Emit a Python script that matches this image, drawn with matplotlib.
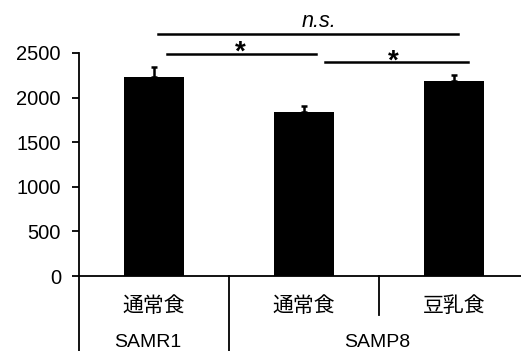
import matplotlib
matplotlib.use("Agg")
import matplotlib.pyplot as plt
import numpy as np

plt.rcParams['font.family'] = ['Liberation Sans', 'Noto Sans CJK JP', 'DejaVu Sans']

diets = ['通常食', '通常食', '豆乳食']
strains = ['SAMR1', 'SAMP8']
means = [2234, 1839, 2186]
errors = [112, 67, 71]
yticks = [0, 500, 1000, 1500, 2000, 2500]

fig = plt.figure(figsize=(5.21, 3.51), dpi=100)
ax = fig.add_axes([79 / 521, 75 / 351, 1 - 79 / 521, 223 / 351])

x = np.arange(len(means))
ax.bar(x, means, width=0.4, color='black')
ax.errorbar(x, means, yerr=[np.zeros(3), errors], fmt='none', ecolor='black',
            elinewidth=1.8, capsize=2.5, capthick=1.8)

ax.set_xlim(-0.5, 2.447)
ax.set_ylim(0, 2500)
ax.set_yticks(yticks)
ax.tick_params(axis='y', direction='out', length=5, width=1.3, labelsize=14.5, pad=8)
ax.set_xticks([])
for s in ['top', 'right']:
    ax.spines[s].set_visible(False)
for s in ['left', 'bottom']:
    ax.spines[s].set_linewidth(1.3)

# category separators below the axis
ax.plot([-0.5, -0.5], [0, -850], color='black', lw=1.3, clip_on=False)
ax.plot([0.5, 0.5], [0, -850], color='black', lw=1.3, clip_on=False)
ax.plot([1.5, 1.5], [0, -440], color='black', lw=1.3, clip_on=False)

for xi, d in zip(x, diets):
    ax.text(xi, -336, d, ha='center', va='center', fontsize=15,
            family=['Noto Sans CJK JP', 'DejaVu Sans'])
ax.text(-0.04, -740, strains[0], ha='center', va='center', fontsize=14)
ax.text(1.49, -740, strains[1], ha='center', va='center', fontsize=14)

# significance bars
ax.plot([0.027, 2.027], [2713, 2713], color='black', lw=1.8, clip_on=False)
ax.text(1.097, 2791, 'n.s.', ha='center', va='baseline', fontsize=15.5, style='italic')
ax.plot([0.087, 1.08], [2489, 2489], color='black', lw=1.8, clip_on=False)
ax.text(0.573, 2421, '*', ha='center', va='baseline', fontsize=20, weight='bold')
ax.plot([1.14, 2.093], [2399, 2399], color='black', lw=1.8, clip_on=False)
ax.text(1.593, 2320, '*', ha='center', va='baseline', fontsize=20, weight='bold')

fig.savefig('out.png', dpi=100)
